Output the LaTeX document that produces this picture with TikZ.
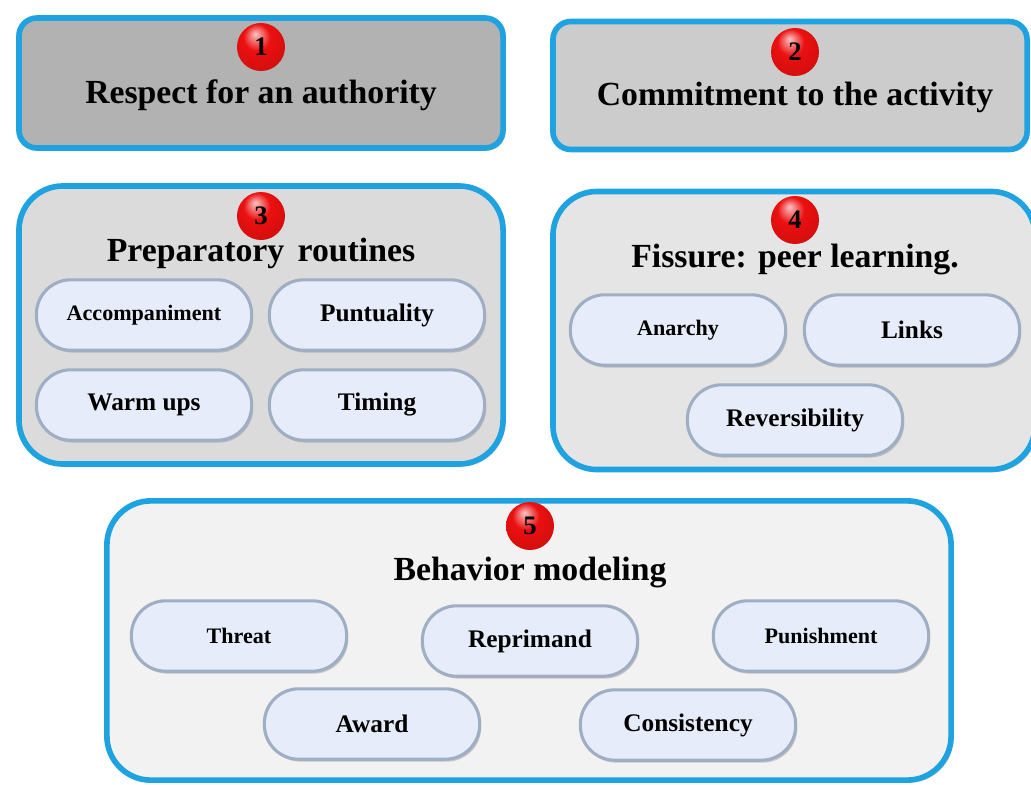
\documentclass[tikz,border=0pt]{standalone}
\usepackage{fontspec}
\setmainfont{Liberation Serif}
\usepackage{tikz}
\usetikzlibrary{shapes.geometric,positioning,shadows}
\definecolor{rim}{RGB}{30,162,224}
\definecolor{pillfill}{RGB}{230,236,250}
\definecolor{pillrim}{RGB}{160,174,195}
\definecolor{ballred}{RGB}{236,16,16}
\pgfdeclareradialshading{redball}{\pgfpoint{-6bp}{14bp}}{%
  color(0bp)=(ballred!25!white); color(14bp)=(ballred);
  color(38bp)=(ballred!85!black); color(50bp)=(ballred!50!black)}
\tikzset{
 box/.style
  = {rectangle, draw=rim, line width=4pt, rounded corners=0.45cm,
     drop shadow={shadow xshift=0.6mm, shadow yshift=-0.6mm, fill=black!35}},
 bigbox/.style
  = {box, rounded corners=1.1cm},
 ball/.style
  = {circle, minimum size=1.2cm, inner sep=0pt, shading=redball,
     font=\fontsize{19}{19}\selectfont\bfseries},
 ttl/.style
  = {inner sep=0pt, font=\fontsize{24}{28}\selectfont\bfseries},
 pill/.style
  = {rectangle, rounded corners=0.86cm, minimum width=5.38cm, minimum height=1.76cm,
     fill=pillfill, draw=pillrim, line width=2.2pt, inner sep=0pt,
     drop shadow={shadow xshift=0.4mm, shadow yshift=-0.6mm, fill=black!40},
     font=\fontsize{18}{18}\selectfont\bfseries},
 spill/.style
  = {pill, font=\fontsize{15.7}{16}\selectfont\bfseries},
}
\begin{document}
\begin{tikzpicture}[x=0.025cm, y=-0.025cm]
\useasboundingbox (0,0) rectangle (1031,784);

% Box 1
\node[box, fill=black!30, minimum width=12.1cm, minimum height=3.25cm] (B1) at (261,83) {};
\node[ball] (n1) at (261,47) {1};
\node[ttl] (t1) at (261,95) {Respect for an authority};

% Box 2
\node[box, fill=black!20, minimum width=11.85cm, minimum height=3.2cm] (B2) at (790,85.5) {};
\node[ball] (n2) at (795,52) {2};
\node[ttl] (t2) at (795,97) {Commitment to the activity};

% Box 3
\node[bigbox, fill=black!14, minimum width=12.1cm, minimum height=6.95cm] (B3) at (261,325) {};
\node[ball] (n3) at (261,216) {3};
\node[ttl] (t3) at (261,253) {Preparatory\hspace{0.15em} routines};
\node[spill] (acc) at (144,315) {Accompaniment};
\node[pill] (pun) at (377,315) {Puntuality};
\node[pill] (war) at (144,405) {Warm ups};
\node[pill] (tim) at (377,405) {Timing};

% Box 4
\node[bigbox, fill=black!10, minimum width=12.05cm, minimum height=6.95cm] (B4) at (794,330.5) {};
\node[ball] (n4) at (795,220) {4};
\node[ttl] (t4) at (795,260) {Fissure: peer learning.};
\node[spill] (ana) at (678,330) {Anarchy};
\node[pill] (lin) at (912,330) {Links};
\node[pill] (rev) at (795,420) {Reversibility};

% Box 5
\node[bigbox, fill=black!5, minimum width=21.1cm, minimum height=6.98cm] (B5) at (529,640.5) {};
\node[ball] (n5) at (530,526) {5};
\node[ttl] (t5) at (530,573) {Behavior modeling};
\node[spill] (thr) at (239,636) {Threat};
\node[pill] (rep) at (530,641) {Reprimand};
\node[spill] (pns) at (821,636) {Punishment};
\node[pill] (awa) at (372,724) {Award};
\node[pill] (con) at (688,725) {Consistency};

\end{tikzpicture}
\end{document}
